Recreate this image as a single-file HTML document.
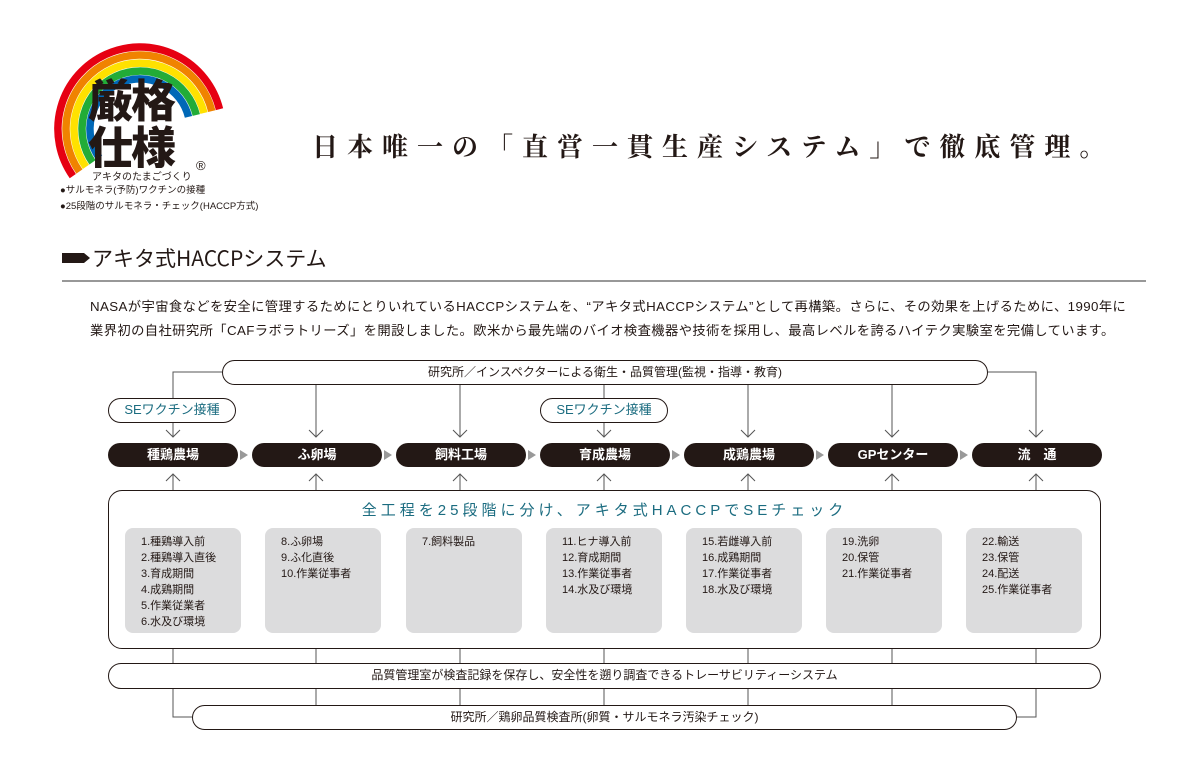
<!DOCTYPE html>
<html><head><meta charset="utf-8"><style>
body{margin:0;width:1200px;height:778px;background:#fff;position:relative;overflow:hidden;font-family:"Liberation Sans","Noto Sans CJK JP",sans-serif;color:#231815}
.a{position:absolute;white-space:nowrap}
.pill{position:absolute;width:130px;height:24px;top:443px;background:#231815;color:#fff;border-radius:12px;text-align:center;line-height:24px;font-size:13px;font-weight:bold}
.gb{position:absolute;top:528px;width:116px;height:105px;background:#dcdcdd;border-radius:8px;font-size:11px;line-height:16px;padding:6px 0 0 16px;box-sizing:border-box}
.bar{position:absolute;border:1.6px solid #231815;border-radius:13px;box-sizing:border-box;text-align:center;font-size:12px;background:#fff}
</style></head><body>
<svg class="a" style="left:0;top:0" width="1200" height="778">
<g fill="none" stroke-width="7.5" transform="translate(2,4)">
<path d="M70.8,172.1 A82,82 0 1 1 217.5,105.2" stroke="#e60012"/>
<path d="M77.4,167.5 A74,74 0 1 1 209.8,107.1" stroke="#f08300"/>
<path d="M83.9,162.9 A66,66 0 1 1 202,109" stroke="#ffe100"/>
<path d="M90.5,158.3 A58,58 0 1 1 194.3,111" stroke="#22ac38"/>
<path d="M97.1,153.7 A50,50 0 1 1 186.5,112.9" stroke="#0068b7"/>
</g>
<g stroke="#555" stroke-width="1" fill="none">
<path d="M222,372 H173 V398"/><path d="M173,423 V437"/>
<path d="M988,372 H1036 V437"/>
<path d="M316,384 V437"/><path d="M460,384 V437"/><path d="M748,384 V437"/><path d="M892,384 V437"/>
<path d="M604,384 V398"/><path d="M604,423 V437"/>
<path d="M166,430 L173,437 L180,430 M309,430 L316,437 L323,430 M453,430 L460,437 L467,430 M597,430 L604,437 L611,430 M741,430 L748,437 L755,430 M885,430 L892,437 L899,430 M1029,430 L1036,437 L1043,430"/>
<path d="M173,475 V490 M316,475 V490 M460,475 V490 M604,475 V490 M748,475 V490 M892,475 V490 M1036,475 V490"/>
<path d="M166,481 L173,474 L180,481 M309,481 L316,474 L323,481 M453,481 L460,474 L467,481 M597,481 L604,474 L611,481 M741,481 L748,474 L755,481 M885,481 L892,474 L899,481 M1029,481 L1036,474 L1043,481"/>
<path d="M173,648 V663 M316,648 V663 M460,648 V663 M604,648 V663 M748,648 V663 M892,648 V663 M1036,648 V663"/>
<path d="M316,689 V705 M460,689 V705 M604,689 V705 M748,689 V705 M892,689 V705"/>
<path d="M173,689 V717 H192 M1036,689 V717 H1017"/>
</g>
<g fill="#999"><path d="M240,450 L248,455 L240,460Z M384,450 L392,455 L384,460Z M528,450 L536,455 L528,460Z M672,450 L680,455 L672,460Z M816,450 L824,455 L816,460Z M960,450 L968,455 L960,460Z"/></g>
<path d="M62,253 H84 L90,258 L84,263 H62Z" fill="#231815"/>
<line x1="62" y1="281" x2="1146" y2="281" stroke="#777" stroke-width="1.5"/>
</svg>
<div class="a" style="left:88px;top:74px;font-size:45px;font-weight:900;line-height:47px;letter-spacing:-2px;font-family:'Noto Sans CJK JP',sans-serif">厳格<br>仕様</div>
<div class="a" style="left:90px;top:168px;font-size:10px;background:#fff;padding:0 2px">アキタのたまごづくり</div>
<div class="a" style="left:196px;top:158px;font-size:13px">®</div>
<div class="a" style="left:60px;top:183px;font-size:9.5px;line-height:16px">●サルモネラ(予防)ワクチンの接種<br>●25段階のサルモネラ・チェック(HACCP方式)</div>
<div class="a" style="left:312px;top:127px;font-size:26px;font-weight:bold;letter-spacing:9px;font-family:'Noto Serif CJK SC',serif">日本唯一の「直営一貫生産システム」で徹底管理。</div>
<div class="a" style="left:92px;top:243px;font-size:21px;font-family:'Noto Sans CJK JP',sans-serif;line-height:30px">アキタ式HACCPシステム</div>
<div class="a" style="left:90px;top:295px;font-size:13.3px;line-height:24px;letter-spacing:0.4px">NASAが宇宙食などを安全に管理するためにとりいれているHACCPシステムを、“アキタ式HACCPシステム”として再構築。さらに、その効果を上げるために、1990年に<br>業界初の自社研究所「CAFラボラトリーズ」を開設しました。欧米から最先端のバイオ検査機器や技術を採用し、最高レベルを誇るハイテク実験室を完備しています。</div>
<div class="bar" style="left:222px;top:360px;width:766px;height:25px;line-height:22px">研究所／インスペクターによる衛生・品質管理(監視・指導・教育)</div>
<div class="bar" style="left:108px;top:398px;width:128px;height:25px;line-height:22px;color:#1b6c80;font-size:13px;border-width:1px">SEワクチン接種</div>
<div class="bar" style="left:540px;top:398px;width:128px;height:25px;line-height:22px;color:#1b6c80;font-size:13px;border-width:1px">SEワクチン接種</div>
<div class="pill" style="left:108px">種鶏農場</div>
<div class="pill" style="left:252px">ふ卵場</div>
<div class="pill" style="left:396px">飼料工場</div>
<div class="pill" style="left:540px">育成農場</div>
<div class="pill" style="left:684px">成鶏農場</div>
<div class="pill" style="left:828px">GPセンター</div>
<div class="pill" style="left:972px">流　通</div>
<div class="bar" style="left:108px;top:490px;width:993px;height:159px;border-radius:14px;background:transparent"></div>
<div class="a" style="left:108px;width:993px;top:499px;text-align:center;font-size:15px;color:#1b6c80;letter-spacing:4px">全工程を25段階に分け、アキタ式HACCPでSEチェック</div>
<div class="gb" style="left:125px">1.種鶏導入前<br>2.種鶏導入直後<br>3.育成期間<br>4.成鶏期間<br>5.作業従業者<br>6.水及び環境</div>
<div class="gb" style="left:265px">8.ふ卵場<br>9.ふ化直後<br>10.作業従事者</div>
<div class="gb" style="left:406px">7.飼料製品</div>
<div class="gb" style="left:546px">11.ヒナ導入前<br>12.育成期間<br>13.作業従事者<br>14.水及び環境</div>
<div class="gb" style="left:686px">15.若雌導入前<br>16.成鶏期間<br>17.作業従事者<br>18.水及び環境</div>
<div class="gb" style="left:826px">19.洗卵<br>20.保管<br>21.作業従事者</div>
<div class="gb" style="left:966px">22.輸送<br>23.保管<br>24.配送<br>25.作業従事者</div>
<div class="bar" style="left:108px;top:663px;width:993px;height:26px;line-height:23px">品質管理室が検査記録を保存し、安全性を遡り調査できるトレーサビリティーシステム</div>
<div class="bar" style="left:192px;top:705px;width:825px;height:25px;line-height:22px">研究所／鶏卵品質検査所(卵質・サルモネラ汚染チェック)</div>
</body></html>
